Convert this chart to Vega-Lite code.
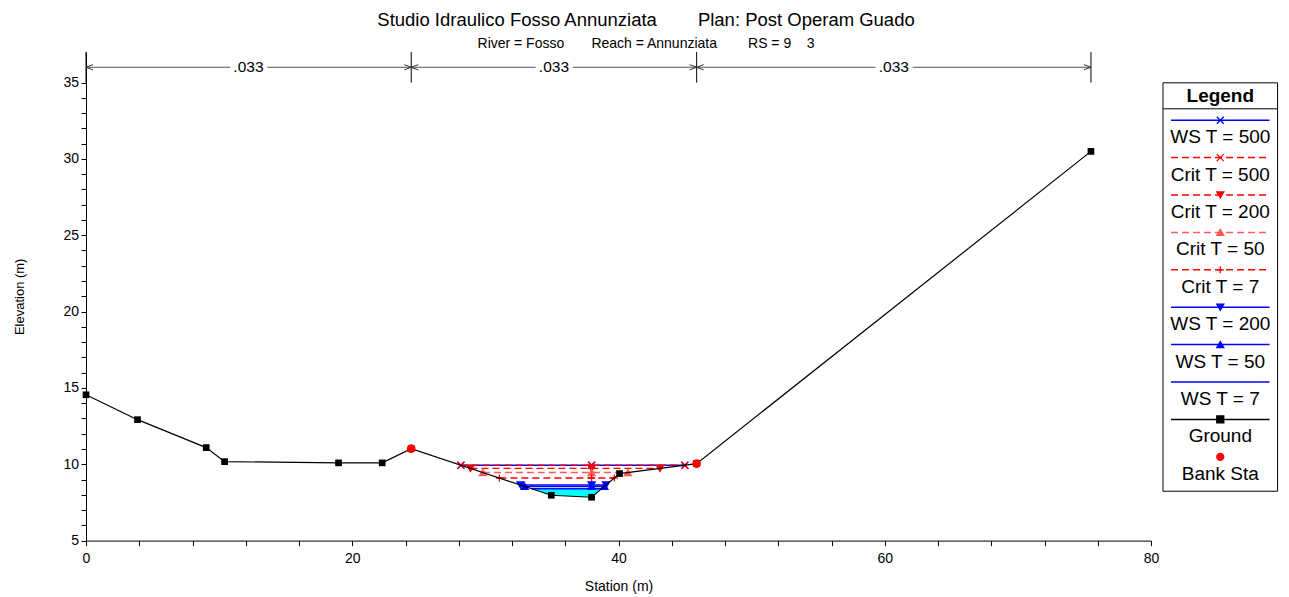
{
  "$schema": "https://vega.github.io/schema/vega-lite/v6.json",
  "background": "white",
  "padding": {"left": 13, "top": 11, "right": 5, "bottom": 5},
  "config": {"font": "Liberation Sans", "view": {"stroke": null}},
  "title": {
    "text": "Studio Idraulico Fosso Annunziata\u00a0\u00a0\u00a0\u00a0\u00a0\u00a0\u00a0\u00a0Plan: Post Operam Guado",
    "subtitle": "River = Fosso\u00a0\u00a0\u00a0\u00a0\u00a0\u00a0\u00a0Reach = Annunziata\u00a0\u00a0\u00a0\u00a0\u00a0\u00a0\u00a0\u00a0RS = 9\u00a0\u00a0\u00a0\u00a03",
    "fontSize": 18.5, "fontWeight": "normal", "color": "black",
    "subtitleFontSize": 14, "subtitleColor": "black", "subtitlePadding": 8,
    "anchor": "middle", "offset": 0
  },
  "datasets": {
    "ground": [
      {"sta": 0, "elev": 14.55}, {"sta": 3.87, "elev": 12.92}, {"sta": 9.03, "elev": 11.09},
      {"sta": 10.41, "elev": 10.17}, {"sta": 18.97, "elev": 10.09}, {"sta": 22.25, "elev": 10.09},
      {"sta": 24.43, "elev": 11.02}, {"sta": 34.95, "elev": 7.97}, {"sta": 37.98, "elev": 7.84},
      {"sta": 40.08, "elev": 9.39}, {"sta": 45.87, "elev": 10.04}, {"sta": 75.49, "elev": 30.49}
    ],
    "banks": [{"name": "Bank Sta", "sta": 24.43, "elev": 11.02}, {"name": "Bank Sta", "sta": 45.87, "elev": 10.04}],
    "ws": [
      {"name": "WS T = 500", "sta": 28.16, "elev": 9.94}, {"name": "WS T = 500", "sta": 37.98, "elev": 9.94}, {"name": "WS T = 500", "sta": 44.98, "elev": 9.94},
      {"name": "Crit T = 500", "sta": 28.16, "elev": 9.94}, {"name": "Crit T = 500", "sta": 37.98, "elev": 9.94}, {"name": "Crit T = 500", "sta": 44.98, "elev": 9.94},
      {"name": "Crit T = 200", "sta": 28.88, "elev": 9.73}, {"name": "Crit T = 200", "sta": 37.98, "elev": 9.73}, {"name": "Crit T = 200", "sta": 43.11, "elev": 9.73},
      {"name": "Crit T = 50", "sta": 29.81, "elev": 9.46}, {"name": "Crit T = 50", "sta": 37.98, "elev": 9.46}, {"name": "Crit T = 50", "sta": 40.7, "elev": 9.46},
      {"name": "Crit T = 7", "sta": 31.05, "elev": 9.1}, {"name": "Crit T = 7", "sta": 37.98, "elev": 9.1}, {"name": "Crit T = 7", "sta": 39.69, "elev": 9.1},
      {"name": "WS T = 200", "sta": 32.64, "elev": 8.64}, {"name": "WS T = 200", "sta": 37.98, "elev": 8.64}, {"name": "WS T = 200", "sta": 39.06, "elev": 8.64},
      {"name": "WS T = 50", "sta": 32.95, "elev": 8.55}, {"name": "WS T = 50", "sta": 37.98, "elev": 8.55}, {"name": "WS T = 50", "sta": 38.94, "elev": 8.55},
      {"name": "WS T = 7", "sta": 33.47, "elev": 8.4}, {"name": "WS T = 7", "sta": 37.98, "elev": 8.4}, {"name": "WS T = 7", "sta": 38.74, "elev": 8.4}
    ],
    "fill": [
      {"sta": 33.47, "bed": 8.4, "ws": 8.4}, {"sta": 34.95, "bed": 7.97, "ws": 8.4},
      {"sta": 37.98, "bed": 7.84, "ws": 8.4}, {"sta": 38.74, "bed": 8.4, "ws": 8.4}
    ],
    "nvals": [
      {"from": 0, "to": 24.43, "mid": 12.2, "n": ".033"},
      {"from": 24.43, "to": 45.87, "mid": 35.15, "n": ".033"},
      {"from": 45.87, "to": 75.49, "mid": 60.68, "n": ".033"}
    ],
    "bars": [{"sta": 0}, {"sta": 24.43}, {"sta": 45.87}, {"sta": 75.49}],
    "legend": [
      {"name": "WS T = 500", "pos": 1}, {"name": "Crit T = 500", "pos": 2}, {"name": "Crit T = 200", "pos": 3},
      {"name": "Crit T = 50", "pos": 4}, {"name": "Crit T = 7", "pos": 5}, {"name": "WS T = 200", "pos": 6},
      {"name": "WS T = 50", "pos": 7}, {"name": "WS T = 7", "pos": 8}, {"name": "Ground", "pos": 9},
      {"name": "Bank Sta", "pos": 10}
    ]
  },
  "spacing": 3,
  "hconcat": [
    {
      "width": 1065,
      "height": 488.6,
      "layer": [
        {
          "data": {"name": "fill"},
          "mark": {"type": "area", "color": "#00ffff", "opacity": 1},
          "encoding": {
            "x": {"field": "sta", "type": "quantitative", "title": "Station (m)", "scale": {"domain": [0, 80], "nice": false, "zero": false},
              "axis": {"values": [0, 4, 8, 12, 16, 20, 24, 28, 32, 36, 40, 44, 48, 52, 56, 60, 64, 68, 72, 76, 80], "tickCount": 200, "format": "d", "labelExpr": "datum.value % 20 === 0 ? datum.label : ''", "tickSize": 5, "labelPadding": 6, "titlePadding": 14, "labelFontSize": 14, "titleFontSize": 14, "titleFontWeight": "normal", "grid": false, "domainColor": "black", "tickColor": "black", "labelColor": "black", "titleColor": "black", "labelFlush": false, "labelOverlap": false}},
            "y": {"field": "bed", "type": "quantitative", "title": "Elevation (m)", "scale": {"domain": [5, 37], "nice": false, "zero": false},
              "axis": {"values": [5, 6, 7, 8, 9, 10, 11, 12, 13, 14, 15, 16, 17, 18, 19, 20, 21, 22, 23, 24, 25, 26, 27, 28, 29, 30, 31, 32, 33, 34, 35], "tickCount": 200, "format": "d", "labelExpr": "datum.value % 5 === 0 ? datum.label : ''", "tickSize": 5, "labelPadding": 2.5, "titlePadding": 36, "labelFontSize": 14, "titleFontSize": 13, "titleFontWeight": "normal", "grid": false, "domainColor": "black", "tickColor": "black", "labelColor": "black", "titleColor": "black", "labelFlush": false, "labelOverlap": false}},
            "y2": {"field": "ws"}
          }
        },
        {
          "data": {"name": "ws"},
          "transform": [{"filter": "indexof(datum.name, 'WS') === 0"}],
          "mark": {"type": "line", "strokeWidth": 1.5},
          "encoding": {
            "x": {"field": "sta", "type": "quantitative", "title": "Station (m)"},
            "y": {"field": "elev", "type": "quantitative", "title": "Elevation (m)"},
            "detail": {"field": "name"},
            "stroke": {"field": "name", "type": "nominal", "legend": null, "scale": {"domain": ["WS T = 500", "Crit T = 500", "Crit T = 200", "Crit T = 50", "Crit T = 7", "WS T = 200", "WS T = 50", "WS T = 7", "Ground", "Bank Sta"], "range": ["#0000ff", "#ff0000", "#ff0000", "#ff5a5a", "#ff0000", "#0000ff", "#0000ff", "#0000ff", "#000000", "#ff0000"]}},
            "strokeDash": {"field": "name", "type": "nominal", "legend": null, "scale": {"domain": ["WS T = 500", "Crit T = 500", "Crit T = 200", "Crit T = 50", "Crit T = 7", "WS T = 200", "WS T = 50", "WS T = 7", "Ground", "Bank Sta"], "range": [[1, 0], [7, 4], [7, 4], [7, 4], [7, 4], [1, 0], [1, 0], [1, 0], [1, 0], [1, 0]]}}
          }
        },
        {
          "data": {"name": "ws"},
          "transform": [{"filter": "indexof(datum.name, 'Crit') === 0"}],
          "mark": {"type": "line", "strokeWidth": 1.4},
          "encoding": {
            "x": {"field": "sta", "type": "quantitative", "title": "Station (m)"},
            "y": {"field": "elev", "type": "quantitative", "title": "Elevation (m)"},
            "detail": {"field": "name"},
            "stroke": {"field": "name", "type": "nominal", "legend": null, "scale": {"domain": ["WS T = 500", "Crit T = 500", "Crit T = 200", "Crit T = 50", "Crit T = 7", "WS T = 200", "WS T = 50", "WS T = 7", "Ground", "Bank Sta"], "range": ["#0000ff", "#ff0000", "#ff0000", "#ff5a5a", "#ff0000", "#0000ff", "#0000ff", "#0000ff", "#000000", "#ff0000"]}},
            "strokeDash": {"field": "name", "type": "nominal", "legend": null, "scale": {"domain": ["WS T = 500", "Crit T = 500", "Crit T = 200", "Crit T = 50", "Crit T = 7", "WS T = 200", "WS T = 50", "WS T = 7", "Ground", "Bank Sta"], "range": [[1, 0], [7, 4], [7, 4], [7, 4], [7, 4], [1, 0], [1, 0], [1, 0], [1, 0], [1, 0]]}}
          }
        },
        {
          "data": {"name": "ws"},
          "transform": [{"filter": "datum.name !== 'WS T = 7'"}],
          "mark": {"type": "point", "filled": true, "opacity": 1, "strokeWidth": 1.3},
          "encoding": {
            "x": {"field": "sta", "type": "quantitative", "title": "Station (m)"},
            "y": {"field": "elev", "type": "quantitative", "title": "Elevation (m)"},
            "shape": {"field": "name", "type": "nominal", "legend": null, "scale": {"domain": ["WS T = 500", "Crit T = 500", "Crit T = 200", "Crit T = 50", "Crit T = 7", "WS T = 200", "WS T = 50", "WS T = 7", "Ground", "Bank Sta"], "range": ["M-1,-1L1,1M-1,1L1,-1", "M-1,-1L1,1M-1,1L1,-1", "triangle-down", "triangle-up", "M-1,0L1,0M0,-1L0,1", "triangle-down", "triangle-up", "circle", "square", "circle"]}},
            "size": {"field": "name", "type": "nominal", "legend": null, "scale": {"domain": ["WS T = 500", "Crit T = 500", "Crit T = 200", "Crit T = 50", "Crit T = 7", "WS T = 200", "WS T = 50", "WS T = 7", "Ground", "Bank Sta"], "range": [49, 49, 45, 45, 36, 45, 45, 0, 36, 70]}},
            "fill": {"field": "name", "type": "nominal", "legend": null, "scale": {"domain": ["WS T = 500", "Crit T = 500", "Crit T = 200", "Crit T = 50", "Crit T = 7", "WS T = 200", "WS T = 50", "WS T = 7", "Ground", "Bank Sta"], "range": ["#0000ff", "#ff0000", "#ff0000", "#ff5a5a", "#ff0000", "#0000ff", "#0000ff", "#0000ff", "#000000", "#ff0000"]}},
            "stroke": {"field": "name", "type": "nominal", "legend": null, "scale": {"domain": ["WS T = 500", "Crit T = 500", "Crit T = 200", "Crit T = 50", "Crit T = 7", "WS T = 200", "WS T = 50", "WS T = 7", "Ground", "Bank Sta"], "range": ["#0000ff", "#ff0000", "#ff0000", "#ff5a5a", "#ff0000", "#0000ff", "#0000ff", "#0000ff", "#000000", "#ff0000"]}}
          }
        },
        {
          "data": {"name": "ground"},
          "mark": {"type": "line", "color": "black", "strokeWidth": 1.2, "point": {"shape": "square", "size": 45, "filled": true, "color": "black"}},
          "encoding": {
            "x": {"field": "sta", "type": "quantitative", "title": "Station (m)"},
            "y": {"field": "elev", "type": "quantitative", "title": "Elevation (m)"}
          }
        },
        {
          "data": {"name": "banks"},
          "mark": {"type": "point", "shape": "circle", "size": 75, "filled": true, "color": "#ff0000", "opacity": 1},
          "encoding": {
            "x": {"field": "sta", "type": "quantitative", "title": "Station (m)"},
            "y": {"field": "elev", "type": "quantitative", "title": "Elevation (m)"}
          }
        },
        {
          "data": {"name": "nvals"},
          "mark": {"type": "rule", "color": "#555555", "strokeWidth": 1},
          "encoding": {
            "x": {"field": "from", "type": "quantitative", "title": "Station (m)"},
            "x2": {"field": "to"},
            "y": {"datum": 36}
          }
        },
        {
          "data": {"name": "bars"},
          "mark": {"type": "rule", "color": "black", "strokeWidth": 1},
          "encoding": {
            "x": {"field": "sta", "type": "quantitative", "title": "Station (m)"},
            "y": {"datum": 35},
            "y2": {"datum": 37}
          }
        },
        {
          "data": {"name": "nvals"},
          "mark": {"type": "point", "shape": "M2,-0.75L0,0L2,0.75", "size": 49, "filled": false, "color": "#333333", "strokeWidth": 1, "opacity": 1},
          "encoding": {
            "x": {"field": "from", "type": "quantitative", "title": "Station (m)"},
            "y": {"datum": 36}
          }
        },
        {
          "data": {"name": "nvals"},
          "mark": {"type": "point", "shape": "M-2,-0.75L0,0L-2,0.75", "size": 49, "filled": false, "color": "#333333", "strokeWidth": 1, "opacity": 1},
          "encoding": {
            "x": {"field": "to", "type": "quantitative", "title": "Station (m)"},
            "y": {"datum": 36}
          }
        },
        {
          "data": {"name": "nvals"},
          "mark": {"type": "text", "fontSize": 15.5, "align": "center", "baseline": "middle", "color": "white", "stroke": "white", "strokeWidth": 9},
          "encoding": {
            "x": {"field": "mid", "type": "quantitative", "title": "Station (m)"},
            "y": {"datum": 36},
            "text": {"field": "n"}
          }
        },
        {
          "data": {"name": "nvals"},
          "mark": {"type": "text", "fontSize": 15.5, "align": "center", "baseline": "middle", "color": "black"},
          "encoding": {
            "x": {"field": "mid", "type": "quantitative", "title": "Station (m)"},
            "y": {"datum": 36},
            "text": {"field": "n"}
          }
        }
      ]
    },
    {
      "width": 114.6,
      "height": 488.6,
      "layer": [
        {
          "data": {"values": [{"label": "Legend"}]},
          "mark": {"type": "rect", "fill": "white", "stroke": "black", "strokeWidth": 1},
          "encoding": {
            "x": {"datum": 0, "scale": {"domain": [0, 1], "nice": false, "zero": false}, "axis": null},
            "x2": {"datum": 1},
            "y": {"datum": 0, "scale": {"domain": [-0.824, 12.24], "reverse": true, "nice": false, "zero": false}, "axis": null},
            "y2": {"datum": 10.92}
          }
        },
        {
          "data": {"values": [{"label": "Legend"}]},
          "mark": {"type": "rule", "color": "black", "strokeWidth": 1},
          "encoding": {
            "x": {"datum": 0},
            "x2": {"datum": 1},
            "y": {"datum": 0.695}
          }
        },
        {
          "data": {"values": [{"label": "Legend"}]},
          "mark": {"type": "text", "fontSize": 19, "fontWeight": "bold", "align": "center", "baseline": "middle", "color": "black"},
          "encoding": {
            "x": {"datum": 0.5},
            "y": {"datum": 0.34},
            "text": {"field": "label"}
          }
        },
        {
          "data": {"name": "legend"},
          "transform": [{"filter": "datum.name !== 'Bank Sta'"}],
          "mark": {"type": "rule", "strokeWidth": 1.5},
          "encoding": {
            "x": {"datum": 0.07},
            "x2": {"datum": 0.93},
            "y": {"field": "pos", "type": "quantitative"},
            "stroke": {"field": "name", "type": "nominal", "legend": null, "scale": {"domain": ["WS T = 500", "Crit T = 500", "Crit T = 200", "Crit T = 50", "Crit T = 7", "WS T = 200", "WS T = 50", "WS T = 7", "Ground", "Bank Sta"], "range": ["#0000ff", "#ff0000", "#ff0000", "#ff5a5a", "#ff0000", "#0000ff", "#0000ff", "#0000ff", "#000000", "#ff0000"]}},
            "strokeDash": {"field": "name", "type": "nominal", "legend": null, "scale": {"domain": ["WS T = 500", "Crit T = 500", "Crit T = 200", "Crit T = 50", "Crit T = 7", "WS T = 200", "WS T = 50", "WS T = 7", "Ground", "Bank Sta"], "range": [[1, 0], [7, 4], [7, 4], [7, 4], [7, 4], [1, 0], [1, 0], [1, 0], [1, 0], [1, 0]]}}
          }
        },
        {
          "data": {"name": "legend"},
          "transform": [{"filter": "datum.name !== 'WS T = 7'"}],
          "mark": {"type": "point", "filled": true, "opacity": 1, "strokeWidth": 1.3},
          "encoding": {
            "x": {"datum": 0.5},
            "y": {"field": "pos", "type": "quantitative"},
            "shape": {"field": "name", "type": "nominal", "legend": null, "scale": {"domain": ["WS T = 500", "Crit T = 500", "Crit T = 200", "Crit T = 50", "Crit T = 7", "WS T = 200", "WS T = 50", "WS T = 7", "Ground", "Bank Sta"], "range": ["M-1,-1L1,1M-1,1L1,-1", "M-1,-1L1,1M-1,1L1,-1", "triangle-down", "triangle-up", "M-1,0L1,0M0,-1L0,1", "triangle-down", "triangle-up", "circle", "square", "circle"]}},
            "size": {"field": "name", "type": "nominal", "legend": null, "scale": {"domain": ["WS T = 500", "Crit T = 500", "Crit T = 200", "Crit T = 50", "Crit T = 7", "WS T = 200", "WS T = 50", "WS T = 7", "Ground", "Bank Sta"], "range": [49, 49, 45, 45, 36, 45, 45, 0, 36, 70]}},
            "fill": {"field": "name", "type": "nominal", "legend": null, "scale": {"domain": ["WS T = 500", "Crit T = 500", "Crit T = 200", "Crit T = 50", "Crit T = 7", "WS T = 200", "WS T = 50", "WS T = 7", "Ground", "Bank Sta"], "range": ["#0000ff", "#ff0000", "#ff0000", "#ff5a5a", "#ff0000", "#0000ff", "#0000ff", "#0000ff", "#000000", "#ff0000"]}},
            "stroke": {"field": "name", "type": "nominal", "legend": null, "scale": {"domain": ["WS T = 500", "Crit T = 500", "Crit T = 200", "Crit T = 50", "Crit T = 7", "WS T = 200", "WS T = 50", "WS T = 7", "Ground", "Bank Sta"], "range": ["#0000ff", "#ff0000", "#ff0000", "#ff5a5a", "#ff0000", "#0000ff", "#0000ff", "#0000ff", "#000000", "#ff0000"]}}
          }
        },
        {
          "data": {"name": "legend"},
          "mark": {"type": "text", "fontSize": 19, "align": "center", "baseline": "middle", "dy": 17, "color": "black"},
          "encoding": {
            "x": {"datum": 0.5},
            "y": {"field": "pos", "type": "quantitative"},
            "text": {"field": "name"}
          }
        }
      ]
    }
  ]
}
